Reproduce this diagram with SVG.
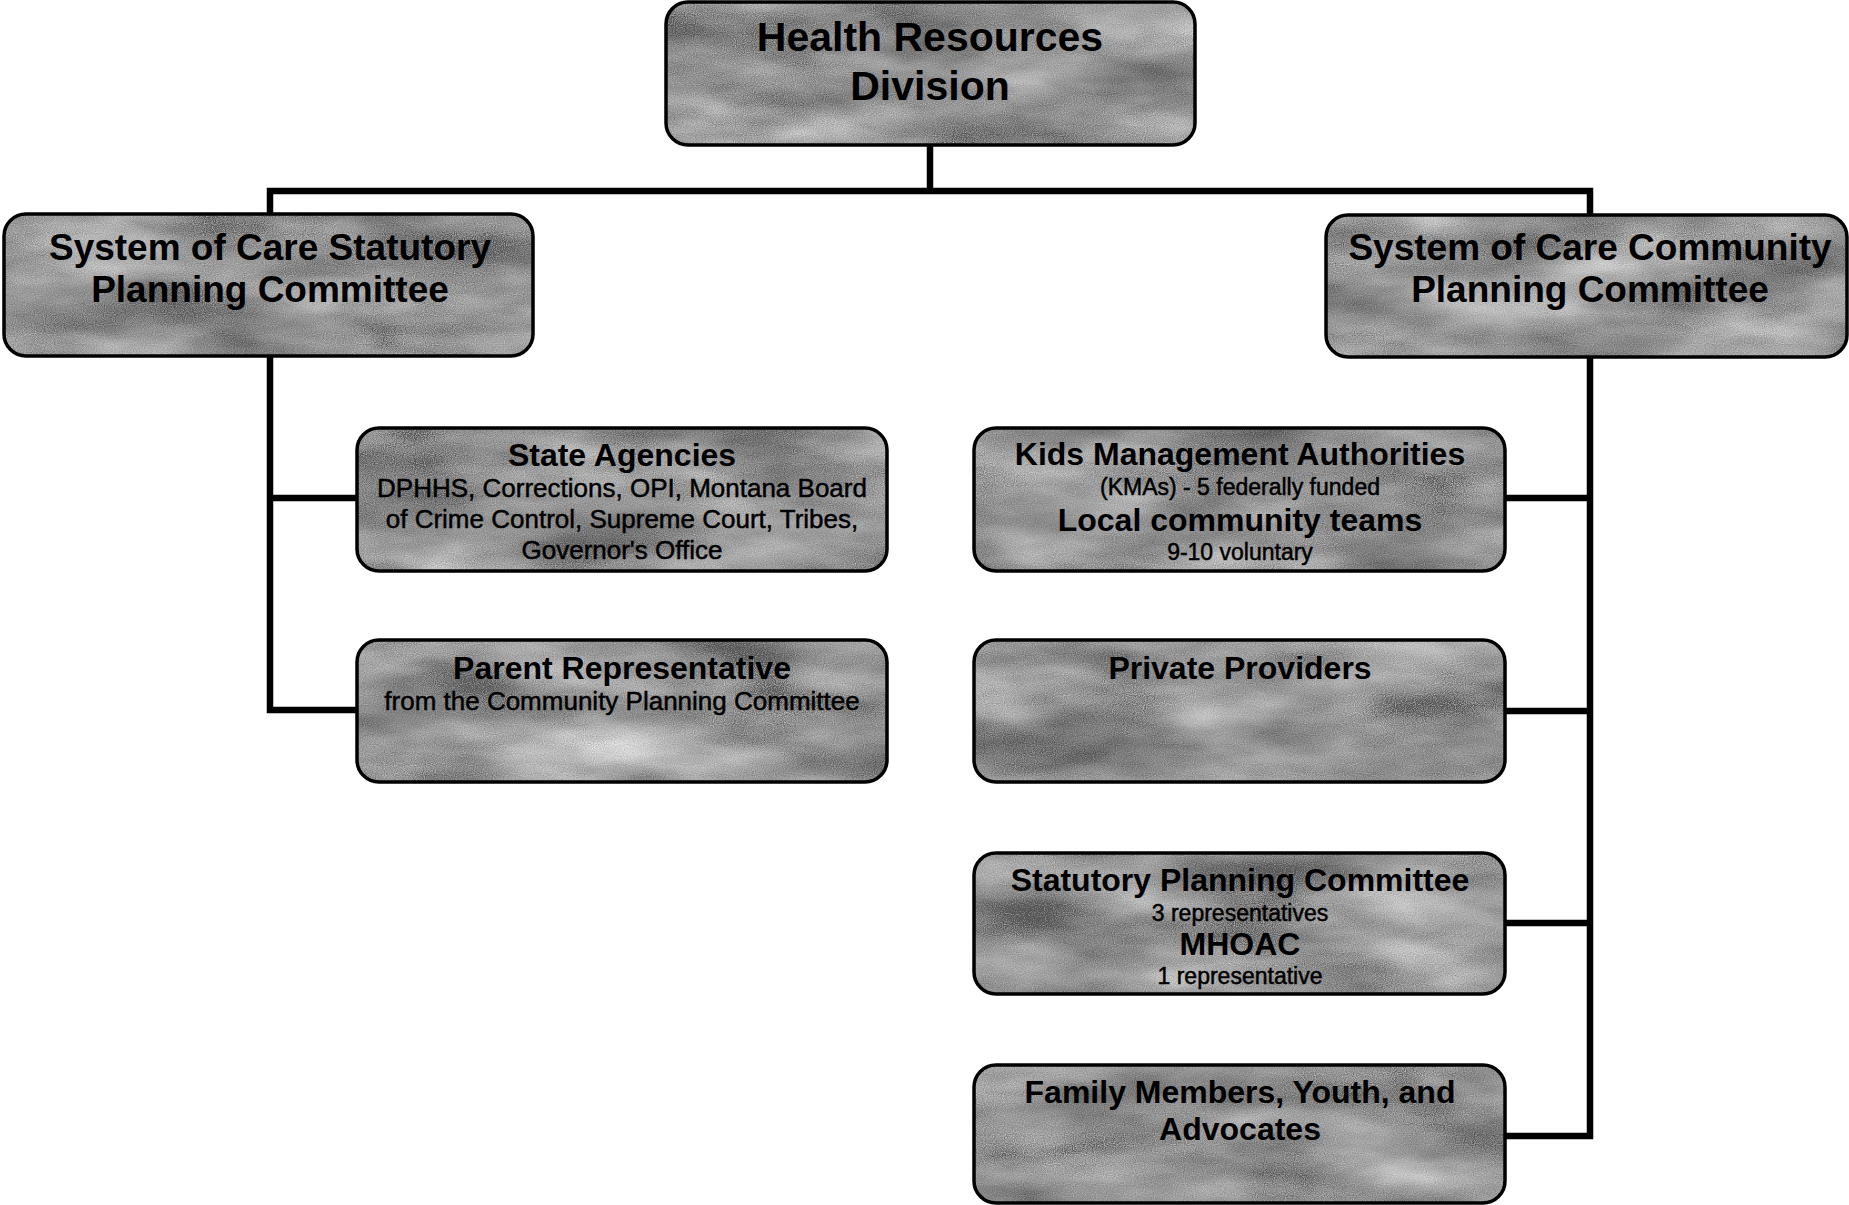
<svg xmlns="http://www.w3.org/2000/svg" width="1849" height="1205" viewBox="0 0 1849 1205">
  <defs>
    <!-- grainy grey "marble" fill used by every box -->
    <filter id="marble" x="0" y="0" width="100%" height="100%" color-interpolation-filters="sRGB">
      <feTurbulence type="fractalNoise" baseFrequency="0.006 0.018" numOctaves="4" seed="7" result="swirl"/>
      <feTurbulence type="fractalNoise" baseFrequency="0.9" numOctaves="1" seed="2" result="grain"/>
      <feComposite in="swirl" in2="grain" operator="arithmetic" k1="0" k2="0.8" k3="0.5" k4="-0.15" result="mix"/>
      <feColorMatrix in="mix" type="matrix" values="0.7 0 0 0 0.34  0.7 0 0 0 0.34  0.7 0 0 0 0.34  0 0 0 0 1" result="grey"/>
      <feComposite in="grey" in2="SourceGraphic" operator="in"/>
    </filter>
  </defs>
  <style>
    .fill { fill: #b0b0b0; filter: url(#marble); }
    .edge { fill: none; stroke: #000; stroke-width: 3.5; }
    .big { font-family: "Liberation Sans", Arial, sans-serif; font-weight: bold; font-size: 37px; fill: #000; text-anchor: middle; }
    .top { font-size: 41px; }
    .head { font-family: "Liberation Sans", Arial, sans-serif; font-weight: bold; font-size: 32px; fill: #000; text-anchor: middle; }
    .sub { font-family: "Liberation Sans", Arial, sans-serif; font-size: 26px; fill: #000; stroke: #000; stroke-width: 0.5; text-anchor: middle; }
    .small { font-size: 23px; }
    .wire { fill: none; stroke: #000; stroke-width: 6.5; stroke-linejoin: miter; stroke-linecap: butt; }
  </style>

  <rect width="1849" height="1205" fill="#fff"/>

  <!-- connectors -->
  <g id="connectors" class="wire">
    <path d="M930,145 V191"/>
    <path d="M270,214 V191 H1590 V215"/>
    <path d="M270,356 V710 H357"/>
    <path d="M270,498 H357"/>
    <path d="M1590,357 V1136 H1505"/>
    <path d="M1590,498 H1505"/>
    <path d="M1590,711 H1505"/>
    <path d="M1590,923 H1505"/>
  </g>

  <!-- root -->
  <g id="health-resources-division">
    <rect class="fill" x="666" y="2" width="529" height="143" rx="22"/>
    <rect class="edge" x="666" y="2" width="529" height="143" rx="22"/>
    <text class="big top" x="930" y="51">Health Resources</text>
    <text class="big top" x="930" y="100">Division</text>
  </g>

  <!-- second level -->
  <g id="statutory-committee">
    <rect class="fill" x="4" y="214" width="529" height="142" rx="22"/>
    <rect class="edge" x="4" y="214" width="529" height="142" rx="22"/>
    <text class="big" x="270" y="260">System of Care Statutory</text>
    <text class="big" x="270" y="302">Planning Committee</text>
  </g>

  <g id="community-committee">
    <rect class="fill" x="1326" y="215" width="521" height="142" rx="22"/>
    <rect class="edge" x="1326" y="215" width="521" height="142" rx="22"/>
    <text class="big" x="1590" y="260">System of Care Community</text>
    <text class="big" x="1590" y="302">Planning Committee</text>
  </g>

  <!-- statutory committee members -->
  <g id="state-agencies">
    <rect class="fill" x="357" y="428" width="530" height="143" rx="22"/>
    <rect class="edge" x="357" y="428" width="530" height="143" rx="22"/>
    <text class="head" x="622" y="466">State Agencies</text>
    <text class="sub" x="622" y="497">DPHHS, Corrections, OPI, Montana Board</text>
    <text class="sub" x="622" y="528">of Crime Control, Supreme Court, Tribes,</text>
    <text class="sub" x="622" y="559">Governor's Office</text>
  </g>

  <g id="parent-representative">
    <rect class="fill" x="357" y="640" width="530" height="142" rx="22"/>
    <rect class="edge" x="357" y="640" width="530" height="142" rx="22"/>
    <text class="head" x="622" y="679">Parent Representative</text>
    <text class="sub" x="622" y="710">from the Community Planning Committee</text>
  </g>

  <!-- community committee members -->
  <g id="kids-management">
    <rect class="fill" x="974" y="428" width="531" height="143" rx="22"/>
    <rect class="edge" x="974" y="428" width="531" height="143" rx="22"/>
    <text class="head" x="1240" y="465">Kids Management Authorities</text>
    <text class="sub small" x="1240" y="495">(KMAs) - 5 federally funded</text>
    <text class="head" x="1240" y="531">Local community teams</text>
    <text class="sub small" x="1240" y="560">9-10 voluntary</text>
  </g>

  <g id="private-providers">
    <rect class="fill" x="974" y="640" width="531" height="142" rx="22"/>
    <rect class="edge" x="974" y="640" width="531" height="142" rx="22"/>
    <text class="head" x="1240" y="679">Private Providers</text>
  </g>

  <g id="statutory-representatives">
    <rect class="fill" x="974" y="853" width="531" height="141" rx="22"/>
    <rect class="edge" x="974" y="853" width="531" height="141" rx="22"/>
    <text class="head" x="1240" y="891">Statutory Planning Committee</text>
    <text class="sub small" x="1240" y="921">3 representatives</text>
    <text class="head" x="1240" y="955">MHOAC</text>
    <text class="sub small" x="1240" y="984">1 representative</text>
  </g>

  <g id="family-members">
    <rect class="fill" x="974" y="1065" width="531" height="138" rx="22"/>
    <rect class="edge" x="974" y="1065" width="531" height="138" rx="22"/>
    <text class="head" x="1240" y="1103">Family Members, Youth, and</text>
    <text class="head" x="1240" y="1140">Advocates</text>
  </g>
</svg>
